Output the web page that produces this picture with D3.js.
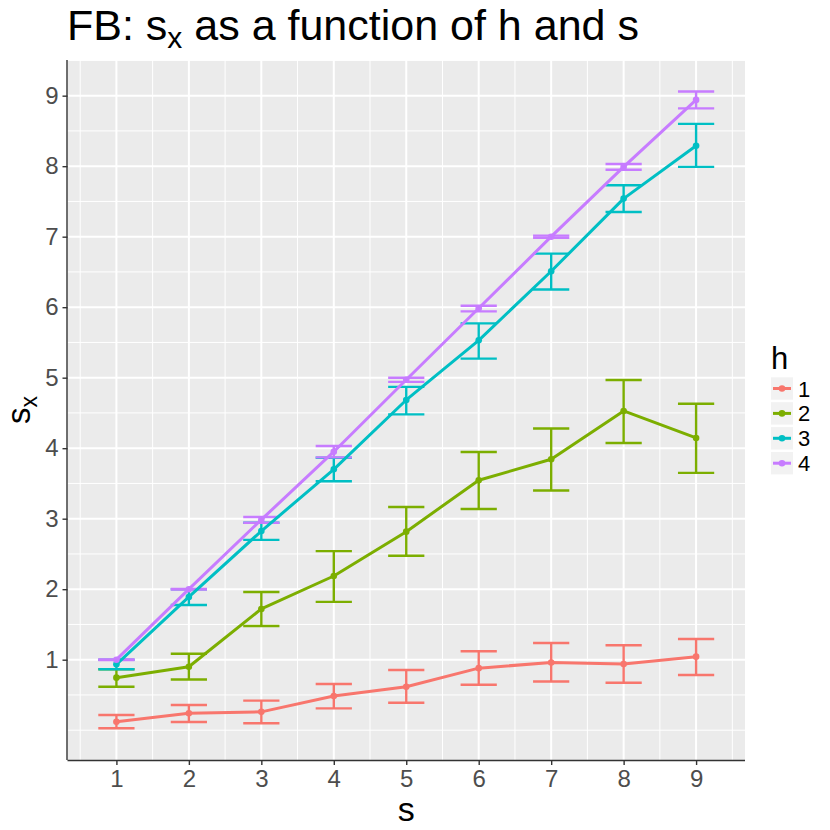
<!DOCTYPE html>
<html>
<head>
<meta charset="utf-8">
<script src="https://cdn.jsdelivr.net/npm/d3@7/dist/d3.min.js"></script>
<style>
  html, body { margin: 0; padding: 0; background: #fff; }
  svg { display: block; font-family: "Liberation Sans", Arial, Helvetica, sans-serif; }
</style>
</head>
<body>
<svg id="chart" width="830" height="830"></svg>
<script>
// ---- data ----
const sValues = [1, 2, 3, 4, 5, 6, 7, 8, 9];
const hLevels = ["1", "2", "3", "4"];
const hColors = ["#F8766D", "#7CAE00", "#00BFC4", "#C77CFF"];

const h1Mean = [0.12, 0.24, 0.26, 0.485, 0.617, 0.88, 0.96, 0.94, 1.043];
const h1Lo   = [0.027, 0.116, 0.098, 0.31, 0.39, 0.645, 0.69, 0.674, 0.783];
const h1Hi   = [0.215, 0.357, 0.42, 0.655, 0.854, 1.12, 1.237, 1.204, 1.294];

const h2Mean = [0.745, 0.90, 1.72, 2.187, 2.816, 3.545, 3.843, 4.528, 4.145];
const h2Lo   = [0.617, 0.72, 1.478, 1.82, 2.475, 3.138, 3.40, 4.074, 3.65];
const h2Hi   = [0.864, 1.085, 1.96, 2.54, 3.166, 3.946, 4.28, 4.967, 4.63];

const h3Mean = [0.935, 1.89, 2.825, 3.70, 4.684, 5.53, 6.51, 7.54, 8.29];
const h3Lo   = [0.865, 1.776, 2.70, 3.53, 4.48, 5.27, 6.25, 7.35, 7.99];
const h3Hi   = [1.0, 2.0, 2.943, 3.865, 4.87, 5.77, 6.76, 7.73, 8.60];

const h4Mean = [1.0, 2.0, 2.986, 3.95, 4.97, 5.985, 7.0, 7.99, 8.94];
const h4Lo   = [0.995, 1.995, 2.943, 3.87, 4.94, 5.94, 6.985, 7.95, 8.82];
const h4Hi   = [1.005, 2.005, 3.024, 4.03, 5.0, 6.02, 7.015, 8.03, 9.06];

const xTicks = [1, 2, 3, 4, 5, 6, 7, 8, 9];
const yTicks = [1, 2, 3, 4, 5, 6, 7, 8, 9];
const xMinor = [0.5, 1.5, 2.5, 3.5, 4.5, 5.5, 6.5, 7.5, 8.5, 9.5];
const yMinor = [0, 0.5, 1.5, 2.5, 3.5, 4.5, 5.5, 6.5, 7.5, 8.5, 9.5];

const means = [h1Mean, h2Mean, h3Mean, h4Mean];
const los = [h1Lo, h2Lo, h3Lo, h4Lo];
const his = [h1Hi, h2Hi, h3Hi, h4Hi];

const series = hLevels.map((h, i) => ({
  h, color: hColors[i],
  pts: sValues.map((s, j) => ({ s, m: means[i][j], lo: los[i][j], hi: his[i][j] }))
}));

// ---- layout ----
const panel = { left: 67.5, right: 745, top: 60, bottom: 760 };
const x = d3.scaleLinear().domain([0.325, 9.675]).range([panel.left, panel.right]);
const y = d3.scaleLinear().domain([-0.4227, 9.506]).range([panel.bottom, panel.top]);

const svg = d3.select("#chart");

// panel background
svg.append("rect")
  .attr("x", panel.left).attr("y", panel.top)
  .attr("width", panel.right - panel.left).attr("height", panel.bottom - panel.top)
  .attr("fill", "#EBEBEB");

const grid = svg.append("g");
grid.selectAll(".xminor").data(xMinor).enter().append("line")
  .attr("x1", d => x(d)).attr("x2", d => x(d))
  .attr("y1", panel.top).attr("y2", panel.bottom)
  .attr("stroke", "#fff").attr("stroke-width", 1);
grid.selectAll(".yminor").data(yMinor).enter().append("line")
  .attr("y1", d => y(d)).attr("y2", d => y(d))
  .attr("x1", panel.left).attr("x2", panel.right)
  .attr("stroke", "#fff").attr("stroke-width", 1);
grid.selectAll(".xmajor").data(xTicks).enter().append("line")
  .attr("x1", d => x(d)).attr("x2", d => x(d))
  .attr("y1", panel.top).attr("y2", panel.bottom)
  .attr("stroke", "#fff").attr("stroke-width", 2);
grid.selectAll(".ymajor").data(yTicks).enter().append("line")
  .attr("y1", d => y(d)).attr("y2", d => y(d))
  .attr("x1", panel.left).attr("x2", panel.right)
  .attr("stroke", "#fff").attr("stroke-width", 2);

// ---- marks ----
const capHalf = 0.25;
const marks = svg.append("g");
series.forEach(sr => {
  const g = marks.append("g");
  g.selectAll("line.v").data(sr.pts).enter().append("line")
    .attr("x1", d => x(d.s)).attr("x2", d => x(d.s))
    .attr("y1", d => y(d.lo)).attr("y2", d => y(d.hi))
    .attr("stroke", sr.color).attr("stroke-width", 2.4);
  g.selectAll("line.t").data(sr.pts).enter().append("line")
    .attr("x1", d => x(d.s - capHalf)).attr("x2", d => x(d.s + capHalf))
    .attr("y1", d => y(d.hi)).attr("y2", d => y(d.hi))
    .attr("stroke", sr.color).attr("stroke-width", 2.4);
  g.selectAll("line.b").data(sr.pts).enter().append("line")
    .attr("x1", d => x(d.s - capHalf)).attr("x2", d => x(d.s + capHalf))
    .attr("y1", d => y(d.lo)).attr("y2", d => y(d.lo))
    .attr("stroke", sr.color).attr("stroke-width", 2.4);
});
const lineGen = d3.line().x(d => x(d.s)).y(d => y(d.m));
series.forEach(sr => {
  marks.append("path").datum(sr.pts)
    .attr("d", lineGen).attr("fill", "none")
    .attr("stroke", sr.color).attr("stroke-width", 3).attr("stroke-linejoin", "round");
});
series.forEach(sr => {
  marks.append("g").selectAll("circle").data(sr.pts).enter().append("circle")
    .attr("cx", d => x(d.s)).attr("cy", d => y(d.m)).attr("r", 3.3)
    .attr("fill", sr.color);
});

// ---- axes ----
const xAxis = svg.append("g")
  .attr("transform", `translate(0,${panel.bottom})`)
  .call(d3.axisBottom(x).tickValues(xTicks).tickSize(5).tickPadding(5).tickFormat(d3.format("d")));
const yAxis = svg.append("g")
  .attr("transform", `translate(${panel.left},0)`)
  .call(d3.axisLeft(y).tickValues(yTicks).tickSize(5).tickPadding(4).tickFormat(d3.format("d")));
[xAxis, yAxis].forEach(ax => {
  ax.select(".domain").attr("stroke", "#333").attr("stroke-width", 1.4);
  ax.selectAll(".tick line").attr("stroke", "#333").attr("stroke-width", 1.4);
  ax.selectAll(".tick text").attr("fill", "#4D4D4D")
    .style("font-size", "24px").style("font-family", "'Liberation Sans', Arial, sans-serif");
});
xAxis.select(".domain").attr("d", `M${panel.left},0.5H${panel.right}`);
yAxis.select(".domain").attr("d", `M-0.5,${panel.top}V${panel.bottom}`);

// ---- titles ----
const title = svg.append("text").attr("x", 67).attr("y", 40)
  .attr("fill", "#000").style("font-size", "43px");
title.append("tspan").text("FB: s");
title.append("tspan").attr("dy", 8).style("font-size", "30px").text("x");
title.append("tspan").attr("dy", -8).text(" as a function of h and s");

svg.append("text").attr("x", x(5)).attr("y", 821)
  .attr("text-anchor", "middle").attr("fill", "#000")
  .style("font-size", "34px").text("s");

const yl = svg.append("text")
  .attr("transform", `translate(30,${(panel.top + panel.bottom) / 2}) rotate(-90)`)
  .attr("text-anchor", "middle").attr("fill", "#000").style("font-size", "33px");
yl.append("tspan").text("s");
yl.append("tspan").attr("dy", 7).style("font-size", "23px").text("x");

// ---- legend ----
const lg = svg.append("g").attr("transform", "translate(771,0)");
lg.append("text").attr("x", 0).attr("y", 369).attr("fill", "#000")
  .style("font-size", "31px").text("h");
const keyH = 24.9, keyTop = 377.3, keyW = 22;
series.forEach((sr, i) => {
  const ky = keyTop + i * keyH;
  lg.append("rect").attr("x", 0).attr("y", ky).attr("width", keyW).attr("height", keyH - 2.5)
    .attr("fill", "#F2F2F2");
  const cy = ky + (keyH - 2.5) / 2;
  lg.append("line").attr("x1", 2).attr("x2", keyW - 2).attr("y1", cy).attr("y2", cy)
    .attr("stroke", sr.color).attr("stroke-width", 3);
  lg.append("circle").attr("cx", keyW / 2).attr("cy", cy).attr("r", 3.3).attr("fill", sr.color);
  lg.append("text").attr("x", 27).attr("y", cy + 8).attr("fill", "#000")
    .style("font-size", "22px").text(sr.h);
});
</script>
</body>
</html>
